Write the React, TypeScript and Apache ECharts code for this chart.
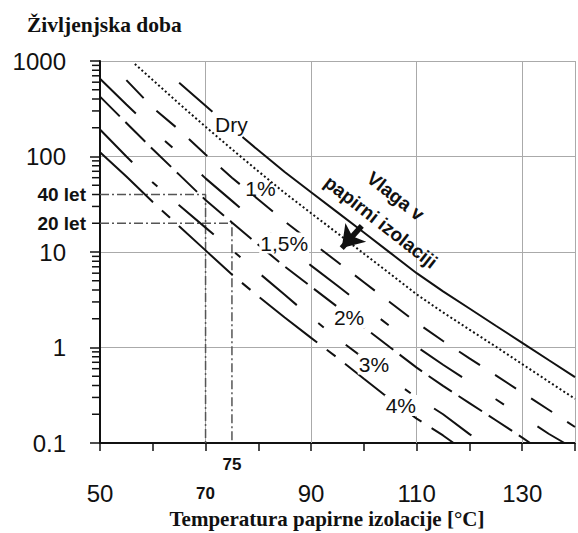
import { useEffect, useRef } from 'react';
import * as echarts from 'echarts';

// Temperature (°C) vs life expectancy (years), log scale
const DRY: any[] = [[65, 593], [70, 340], [71.3, 294], [74, '-'], [77, 160], [80, 116], [85, 68.9], [90, 42.3], [95, 26.0], [100, 16.0], [105, 9.8], [110, 6.0], [115, 3.87], [120, 2.56], [125, 1.69], [130, 1.12], [135, 0.74], [140, 0.49]];
const DOTTED = [[56.6, 931], [60, 631], [65, 357], [70, 205], [75, 119], [80, 70], [85, 41.5], [90, 25.5], [95, 15.7], [100, 9.6], [105, 5.9], [110, 3.6], [115, 2.33], [120, 1.54], [125, 1.02], [130, 0.67], [135, 0.44], [140, 0.29]];
const M1 = [[55, 631], [60, 324], [65, 190], [70, 105], [75, 60], [80, 35.5], [85, 20.9], [90, 12.8], [95, 7.85], [100, 4.82], [105, 2.96], [110, 1.82], [115, 1.17], [120, 0.77], [125, 0.51], [130, 0.337], [135, 0.223], [140, 0.147]];
const M15 = [[50, 653], [55, 351], [60, 190], [65, 107], [70, 59], [75, 34.3], [80, 20], [85, 11.8], [90, 7.2], [95, 4.43], [100, 2.71], [105, 1.66], [110, 1.02], [115, 0.66], [120, 0.435], [125, 0.287], [130, 0.19], [135, 0.125], [138, 0.1]];
const M2 = [[50, 424], [55, 224], [60, 119], [65, 64.6], [70, 35], [75, 20.4], [80, 11.9], [85, 7.05], [90, 4.33], [95, 2.66], [100, 1.63], [105, 1.0], [110, 0.615], [115, 0.396], [120, 0.262], [125, 0.173], [130, 0.114], [131.5, 0.1]];
const M3 = [[50, 192], [55, 100], [60, 53.3], [65, 30.9], [70, 18], [75, 10.5], [80, 6.1], [85, 3.56], [90, 2.07], [95, 1.24], [100, 0.77], [105, 0.47], [110, 0.30], [115, 0.2], [120, 0.124], [122.5, 0.1]];
const M4 = [[50, 111], [55, 61.7], [60, 33.4], [65, 18.6], [70, 10.4], [75, 5.8], [80, 3.43], [85, 2.06], [90, 1.26], [95, 0.78], [100, 0.47], [105, 0.285], [110, 0.18], [115, 0.12], [117, 0.1]];

const REF40 = [[50, 40], [70, 40], [70, 0.1]];
const REF20 = [[50, 20], [75, 20], [75, 0.1]];

const X_LABELS_BIG = [50, 90, 110, 130];
const X_LABEL_BOLD = 70;
const V_GRID = [70, 90, 110, 130, 140];
const MINOR_Y = [0.2, 0.3, 0.4, 0.5, 0.6, 0.7, 0.8, 0.9, 2, 3, 4, 5, 6, 7, 8, 9, 20, 30, 40, 50, 60, 70, 80, 90, 200, 300, 400, 500, 600, 700, 800, 900];

const CURVE_LABELS = [
  { text: 'Dry', x: 74.9, y: 214, bg: false },
  { text: '1%', x: 80.4, y: 45.7, bg: false },
  { text: '1,5%', x: 84.9, y: 12.4, bg: true },
  { text: '2%', x: 97.2, y: 2.04, bg: true },
  { text: '3%', x: 101.9, y: 0.67, bg: true },
  { text: '4%', x: 107, y: 0.247, bg: true },
];
const ROT_LABELS = [
  { text: 'Vlaga v', x: 106.0, y: 38.5 },
  { text: 'papirni izolaciji', x: 103.2, y: 20.6 },
];
const ARROW = [[99.6, 18.8], [95.8, 11.0]];
const YEAR_LABELS = [
  { text: '40 let', y: 40 },
  { text: '20 let', y: 20 },
];
const X_EXTRA = { text: '75', x: 75, y: 0.1 };

const SANS = '"Liberation Sans", Arial, sans-serif';
const SERIF = '"Liberation Serif", "Times New Roman", serif';
const INK = '#111111';

function curve(name: string, data: any[], type: any, width = 2) {
  return {
    name,
    type: 'line',
    data,
    showSymbol: false,
    symbol: 'none',
    silent: true,
    z: 4,
    lineStyle: { color: INK, width, type, opacity: 1 },
  };
}

const baseLabel = { show: true, color: INK, opacity: 1, fontFamily: SANS, textBorderWidth: 0 };

export default function App() {
  const ref = useRef<HTMLDivElement>(null);
  useEffect(() => {
    if (!ref.current) return;
    const chart = echarts.init(ref.current, undefined, { renderer: 'svg' });
    chart.setOption({
      animation: false,
      backgroundColor: '#fff',
      title: {
        text: 'Življenjska doba',
        left: 22,
        top: 9,
        textStyle: { fontFamily: SERIF, fontWeight: 'bold', fontSize: 21.5, color: INK },
      },
      grid: { left: 100, right: 1, top: 61, bottom: 90 },
      xAxis: {
        type: 'value',
        min: 50,
        max: 140,
        interval: 10,
        axisLine: { show: true, lineStyle: { color: INK, width: 2 } },
        axisTick: { show: true, length: 8, lineStyle: { color: INK, width: 1.5 } },
        splitLine: { show: false },
        axisLabel: {
          margin: 38,
          fontSize: 24,
          fontFamily: SANS,
          color: INK,
          formatter: (v: number) =>
            v === X_LABEL_BOLD ? '{b|' + v + '}' : X_LABELS_BIG.includes(v) ? String(v) : '',
          rich: { b: { fontSize: 17, fontWeight: 'bold', fontFamily: SANS, color: INK, lineHeight: 25 } },
        },
      },
      yAxis: {
        type: 'log',
        logBase: 10,
        min: 0.1,
        max: 1000,
        axisLine: { show: true, lineStyle: { color: INK, width: 2 } },
        axisTick: { show: true, length: 10, lineStyle: { color: INK, width: 1.5 } },
        splitLine: { show: true, lineStyle: { color: '#aaa', width: 1 } },
        axisLabel: {
          margin: 34,
          fontSize: 24,
          fontFamily: SANS,
          color: INK,
          formatter: (v: number) => (v < 1 ? '0.1' : String(Math.round(v))),
        },
      },
      graphic: [
        {
          type: 'text',
          x: 327,
          y: 519,
          style: {
            text: 'Temperatura papirne izolacije [°C]',
            fill: INK,
            font: 'bold 21px ' + SERIF,
            textAlign: 'center',
            textVerticalAlign: 'middle',
          },
        },
      ],
      series: [
        {
          type: 'line',
          data: REF40,
          showSymbol: false,
          symbol: 'none',
          silent: true,
          z: 3,
          lineStyle: { color: '#555', width: 1.5, type: [9, 3, 2, 3] },
          markLine: {
            silent: true,
            symbol: 'none',
            label: { show: false },
            lineStyle: { color: '#aaa', width: 1, type: 'solid' },
            data: V_GRID.map((x) => ({ xAxis: x })),
            z: 1,
          },
        },
        {
          type: 'line',
          data: REF20,
          showSymbol: false,
          symbol: 'none',
          silent: true,
          z: 3,
          lineStyle: { color: '#555', width: 1.5, type: [9, 3, 2, 3] },
        },
        curve('Dry', DRY, 'solid', 2),
        curve('dotted', DOTTED, [2, 2.5], 2),
        curve('1%', M1, [25, 18], 2),
        curve('1,5%', M15, [50, 40, 10, 40], 2),
        curve('2%', M2, [28, 8], 2),
        curve('3%', M3, [46, 28, 7, 28], 2),
        curve('4%', M4, [73, 12, 11, 12], 2),
        {
          type: 'lines',
          coordinateSystem: 'cartesian2d',
          polyline: false,
          silent: true,
          z: 8,
          symbol: ['none', 'arrow'],
          symbolSize: 21,
          lineStyle: { color: INK, width: 5.5, opacity: 1 },
          data: [{ coords: ARROW }],
        },
        {
          type: 'scatter',
          data: MINOR_Y.map((v) => [50, v]),
          symbol: 'rect',
          symbolSize: [7, 1.5],
          symbolOffset: [-4.5, 0],
          itemStyle: { color: INK, opacity: 1 },
          clip: false,
          silent: true,
          z: 6,
        },
        {
          type: 'scatter',
          symbolSize: 0,
          itemStyle: { color: '#fff', opacity: 0 },
          clip: false,
          silent: true,
          z: 10,
          data: [
            ...CURVE_LABELS.map((l) => ({
              value: [l.x, l.y],
              label: {
                ...baseLabel,
                position: 'inside',
                formatter: l.text,
                fontSize: 21,
                backgroundColor: l.bg ? '#fff' : 'transparent',
                padding: [0, 1],
              },
            })),
            ...ROT_LABELS.map((l) => ({
              value: [l.x, l.y],
              label: {
                ...baseLabel,
                position: 'inside',
                formatter: l.text,
                fontWeight: 'bold',
                fontSize: 19,
                rotate: -38,
              },
            })),
            ...YEAR_LABELS.map((l) => ({
              value: [50, l.y],
              label: {
                ...baseLabel,
                position: 'left',
                distance: 14,
                formatter: l.text,
                fontWeight: 'bold',
                fontSize: 19,
              },
            })),
            {
              value: [X_EXTRA.x, X_EXTRA.y],
              label: {
                ...baseLabel,
                position: 'bottom',
                distance: 13,
                formatter: X_EXTRA.text,
                fontWeight: 'bold',
                fontSize: 17,
              },
            },
          ],
        },
      ],
    });
    return () => chart.dispose();
  }, []);
  return <div ref={ref} style={{ position: 'fixed', left: 0, top: 0, width: 578, height: 533 }} />;
}
